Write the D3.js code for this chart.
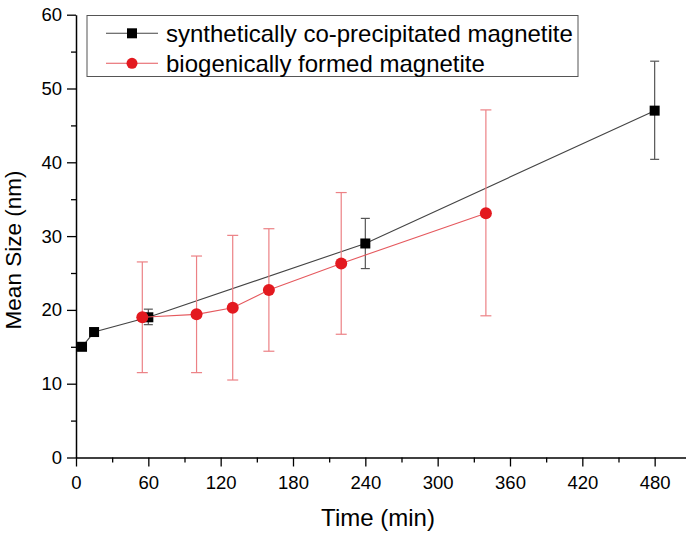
<!DOCTYPE html>
<html><head><meta charset="utf-8">
<script src="https://cdn.jsdelivr.net/npm/d3@7"></script>
<style>body{margin:0;background:#fff}svg{display:block}text{font-family:"Liberation Sans",Arial,sans-serif}</style>
</head><body><svg id="c" width="686" height="537"></svg>
<script>
const synthTime = [5, 15, 60, 240, 480];
const synthSize = [15, 17, 19, 29, 47];
const synthLow  = [null, null, 18.0, 25.6, 40.4];
const synthHigh = [null, null, 20.1, 32.4, 53.7];

const bioTime = [55, 100, 130, 160, 220, 340];
const bioSize = [19, 19.4, 20.3, 22.7, 26.3, 33.1];
const bioLow  = [11.5, 11.5, 10.5, 14.4, 16.7, 19.2];
const bioHigh = [26.5, 27.3, 30.1, 31.0, 35.9, 47.1];

const xTicks = [0, 60, 120, 180, 240, 300, 360, 420, 480];
const yTicks = [0, 10, 20, 30, 40, 50, 60];
const seriesNames = ["synthetically co-precipitated magnetite", "biogenically formed magnetite"];

const svg = d3.select("#c");
const x = d3.scaleLinear().domain([0, 506]).range([76, 686]);
const y = d3.scaleLinear().domain([0, 60]).range([457.5, 14.7]);

const font = "Liberation Sans, Arial, sans-serif";

// x axis
svg.append("g").attr("transform", `translate(0,${y(0)})`)
  .call(d3.axisBottom(x).tickValues(xTicks).tickSize(9).tickPadding(9).tickSizeOuter(0));
svg.append("g").attr("transform", `translate(0,${y(0)})`)
  .call(d3.axisBottom(x).tickValues(d3.range(30, 481, 60)).tickSize(5).tickFormat("").tickSizeOuter(0))
  .select(".domain").remove();
// y axis
svg.append("g").attr("transform", `translate(${x(0)},0)`)
  .call(d3.axisLeft(y).tickValues(yTicks).tickSize(9).tickPadding(5).tickSizeOuter(0));
svg.append("g").attr("transform", `translate(${x(0)},0)`)
  .call(d3.axisLeft(y).tickValues(d3.range(5, 60, 10)).tickSize(5).tickFormat("").tickSizeOuter(0))
  .select(".domain").remove();
svg.selectAll(".domain").attr("stroke", "#000").attr("stroke-width", 1.5);
svg.selectAll(".tick line").attr("stroke", "#000").attr("stroke-width", 1.3);
svg.selectAll(".tick text").attr("font-family", font).attr("font-size", 18.5).attr("fill", "#000");

svg.append("text").attr("x", 378).attr("y", 526).attr("text-anchor", "middle")
  .attr("font-size", 24).attr("font-family", font).text("Time (min)");
svg.append("text").attr("transform", "translate(21,250) rotate(-90)").attr("text-anchor", "middle")
  .attr("font-size", 22.5).attr("font-family", font).text("Mean Size (nm)");

const synth = synthTime.map((t, i) => ({t, v: synthSize[i], lo: synthLow[i], hi: synthHigh[i]}));
const bio = bioTime.map((t, i) => ({t, v: bioSize[i], lo: bioLow[i], hi: bioHigh[i]}));

const line = d3.line().x(d => x(d.t)).y(d => y(d.v));

function errBars(data, color, cap) {
  const g = svg.append("g").attr("stroke", color).attr("stroke-width", 1.2).attr("fill", "none");
  data.filter(d => d.lo != null).forEach(d => {
    g.append("line").attr("x1", x(d.t)).attr("x2", x(d.t)).attr("y1", y(d.lo)).attr("y2", y(d.hi));
    g.append("line").attr("x1", x(d.t) - cap).attr("x2", x(d.t) + cap).attr("y1", y(d.lo)).attr("y2", y(d.lo));
    g.append("line").attr("x1", x(d.t) - cap).attr("x2", x(d.t) + cap).attr("y1", y(d.hi)).attr("y2", y(d.hi));
  });
}

// synthetic
svg.append("path").datum(synth).attr("d", line).attr("fill", "none").attr("stroke", "#444").attr("stroke-width", 1.1);
errBars(synth, "#555", 4.5);
svg.append("g").selectAll("rect").data(synth).join("rect")
  .attr("x", d => x(d.t) - 5).attr("y", d => y(d.v) - 5).attr("width", 10).attr("height", 10).attr("fill", "#000");

// bio
svg.append("path").datum(bio).attr("d", line).attr("fill", "none").attr("stroke", "#e5595e").attr("stroke-width", 1.1);
errBars(bio, "#ec8185", 5.5);
svg.append("g").selectAll("circle").data(bio).join("circle")
  .attr("cx", d => x(d.t)).attr("cy", d => y(d.v)).attr("r", 6).attr("fill", "#e3191f");

// legend
const lg = svg.append("g");
lg.append("rect").attr("x", 87).attr("y", 15.5).attr("width", 491).attr("height", 61)
  .attr("fill", "#fff").attr("stroke", "#555").attr("stroke-width", 1);
const rows = [{y: 33.3, c: "#444", mk: "sq"}, {y: 63.3, c: "#e5595e", mk: "ci"}];
rows.forEach((r, i) => {
  lg.append("line").attr("x1", 106).attr("x2", 158).attr("y1", r.y).attr("y2", r.y).attr("stroke", r.c).attr("stroke-width", 1.1);
  if (r.mk === "sq") lg.append("rect").attr("x", 127).attr("y", r.y - 5).attr("width", 10).attr("height", 10).attr("fill", "#000");
  else lg.append("circle").attr("cx", 132).attr("cy", r.y).attr("r", 5.5).attr("fill", "#e3191f");
  lg.append("text").attr("x", 166).attr("y", r.y + 8.3).attr("font-size", 24).attr("font-family", font).text(seriesNames[i]);
});
</script></body></html>
